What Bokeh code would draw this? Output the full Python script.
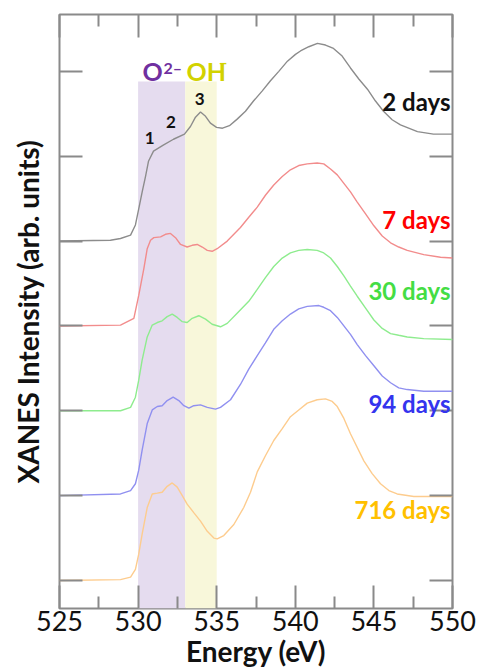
from bokeh.plotting import figure
from bokeh.models import LinearAxis, FixedTicker, BoxAnnotation, Label
from bokeh.embed import file_html
from bokeh.resources import INLINE

# ---------------- data ----------------
series_names = ["2 days", "7 days", "30 days", "94 days", "716 days"]
offsets = [4, 3, 2, 1, 0]

e_2d = [525.0, 528.24, 528.88, 529.52, 529.83, 530.04, 530.26, 530.47, 530.66, 530.98, 531.6, 532.25,
        532.95, 533.33, 533.65, 533.97, 534.29, 534.6, 534.99, 535.37, 535.81, 536.32, 536.83, 537.34,
        537.9, 538.42, 538.95, 539.5, 540.01, 540.33, 540.86, 541.41, 541.92, 542.43, 542.98, 543.51,
        544.04, 544.59, 545.1, 545.61, 546.16, 546.69, 547.77, 548.79, 550.0]
i_2d = [0.0, 0.01, 0.03, 0.07, 0.19, 0.38, 0.58, 0.76, 0.94, 1.06, 1.13, 1.20,
        1.26, 1.35, 1.46, 1.52, 1.47, 1.39, 1.34, 1.33, 1.36, 1.44, 1.53, 1.65,
        1.77, 1.89, 2.00, 2.12, 2.20, 2.24, 2.29, 2.33, 2.31, 2.27, 2.18, 2.04,
        1.91, 1.79, 1.65, 1.53, 1.43, 1.37, 1.29, 1.26, 1.26]

e_7d = [525.0, 528.88, 529.73, 530.04, 530.36, 530.58, 530.79, 531.0, 531.43, 531.74, 532.06, 532.38,
        532.7, 533.12, 533.44, 533.76, 534.08, 534.4, 534.71, 535.03, 535.67, 536.51, 537.04, 537.58,
        538.1, 538.63, 539.17, 539.69, 540.22, 540.76, 541.39, 541.81, 542.24, 542.67, 543.09, 543.51,
        543.94, 544.47, 545.0, 545.53, 546.06, 546.58, 547.12, 548.17, 549.24, 550.0]
i_7d = [0.0, 0.01, 0.09, 0.36, 0.67, 0.91, 1.01, 1.04, 1.05, 1.08, 1.09, 1.04,
        0.96, 0.93, 0.95, 0.96, 0.93, 0.89, 0.88, 0.91, 1.00, 1.16, 1.28, 1.40,
        1.54, 1.66, 1.76, 1.84, 1.89, 1.91, 1.92, 1.91, 1.85, 1.78, 1.68, 1.58,
        1.46, 1.32, 1.18, 1.06, 0.98, 0.93, 0.89, 0.84, 0.81, 0.80]

e_30d = [525.0, 528.88, 529.52, 529.83, 530.04, 530.26, 530.58, 530.9, 531.22, 531.53, 531.85, 532.17,
         532.49, 532.81, 533.12, 533.44, 533.86, 534.29, 534.71, 535.24, 535.67, 536.3, 537.04, 537.58,
         538.1, 538.63, 539.17, 539.69, 540.22, 540.76, 541.39, 541.81, 542.24, 542.67, 543.09, 543.51,
         543.94, 544.47, 545.0, 545.53, 546.06, 546.58, 547.12, 548.17, 550.0]
i_30d = [0.0, 0.0, 0.04, 0.16, 0.36, 0.60, 0.87, 1.01, 1.04, 1.06, 1.11, 1.14,
         1.10, 1.05, 1.04, 1.09, 1.12, 1.08, 1.02, 0.99, 1.03, 1.15, 1.29, 1.43,
         1.57, 1.70, 1.80, 1.86, 1.89, 1.90, 1.89, 1.86, 1.80, 1.70, 1.59, 1.47,
         1.35, 1.21, 1.07, 0.97, 0.91, 0.89, 0.87, 0.85, 0.84]

e_94d = [525.0, 528.88, 529.52, 529.83, 530.04, 530.26, 530.58, 530.9, 531.22, 531.53, 531.85, 532.23,
         532.59, 532.91, 533.23, 533.54, 533.97, 534.4, 534.92, 535.24, 535.88, 536.51, 537.04, 537.58,
         538.1, 538.63, 539.17, 539.69, 540.22, 540.76, 541.5, 541.81, 542.24, 542.67, 543.09, 543.51,
         543.94, 544.47, 545.0, 545.53, 546.06, 546.58, 547.12, 548.17, 550.0]
i_94d = [0.0, 0.02, 0.06, 0.14, 0.30, 0.54, 0.85, 1.01, 1.05, 1.06, 1.12, 1.16,
         1.12, 1.06, 1.03, 1.06, 1.07, 1.04, 1.02, 1.04, 1.13, 1.31, 1.49, 1.65,
         1.80, 1.96, 2.06, 2.14, 2.20, 2.23, 2.24, 2.22, 2.18, 2.10, 2.00, 1.90,
         1.78, 1.65, 1.53, 1.41, 1.33, 1.27, 1.25, 1.23, 1.23]

e_716d = [525.0, 528.88, 529.52, 529.83, 530.04, 530.26, 530.58, 530.9, 531.22, 531.53, 531.85, 532.17,
          532.49, 532.81, 533.12, 533.54, 533.97, 534.4, 534.82, 535.03, 535.45, 536.09, 536.72, 537.15,
          537.58, 538.1, 538.63, 539.17, 539.69, 540.22, 540.76, 541.39, 541.92, 542.35, 542.67, 543.09,
          543.51, 544.36, 544.89, 545.42, 545.95, 546.48, 547.54, 548.39, 550.0]
i_716d = [0.0, 0.01, 0.04, 0.13, 0.31, 0.55, 0.86, 1.02, 1.03, 1.04, 1.11, 1.15,
          1.10, 1.00, 0.90, 0.80, 0.70, 0.58, 0.50, 0.49, 0.53, 0.66, 0.86, 1.04,
          1.28, 1.47, 1.65, 1.79, 1.93, 2.01, 2.09, 2.13, 2.14, 2.11, 2.05, 1.91,
          1.73, 1.41, 1.26, 1.14, 1.06, 1.02, 0.99, 0.99, 0.99]

energies = [e_2d, e_7d, e_30d, e_94d, e_716d]
intensities = [i_2d, i_7d, i_30d, i_94d, i_716d]

x_ticks = [525, 530, 535, 540, 545, 550]
x_minor = [527.5, 532.5, 537.5, 542.5, 547.5]
y_ticks = [0, 1, 2, 3, 4, 5, 6]

o2_band = [530, 533]
oh_band = [533, 535]
band_top = 5.88

peak_labels = ["1", "2", "3"]
peak_x = [530.73, 532.09, 533.91]
peak_y = [5.22, 5.40, 5.67]

# ---------------- style ----------------
line_colors = ["#8c8c8c", "#f28c8c", "#8eec8e", "#9090f0", "#fdcc8e"]
label_colors = ["#111111", "#ff0000", "#44dd44", "#3434ee", "#ffc000"]
label_y = [5.65, 4.26, 3.42, 2.08, 0.84]
FONT = "Lato"
frame_gray = "#8a8a8a"

p = figure(width=483, height=670, x_range=(525, 550), y_range=(-0.33, 6.67),
           output_backend="svg", toolbar_location=None,
           min_border_left=59, min_border_right=31, min_border_top=14, min_border_bottom=0)
p.grid.visible = False
p.outline_line_color = frame_gray
p.outline_line_width = 2
p.background_fill_color = "white"

# shaded bands
p.add_layout(BoxAnnotation(left=o2_band[0], right=o2_band[1], top=band_top,
                           fill_color="#e5dcef", fill_alpha=1.0, line_color=None, level="underlay"))
p.add_layout(BoxAnnotation(left=oh_band[0], right=oh_band[1], top=band_top,
                           fill_color="#f8f7da", fill_alpha=1.0, line_color=None, level="underlay"))

# spectra
for e, i, off, c in zip(energies, intensities, offsets, line_colors):
    p.line(e, [v + off for v in i], line_color=c, line_width=1.4)

# axes
def style_axis(ax, minor=True, labels=False):
    ax.axis_line_color = None
    ax.major_tick_in = 23
    ax.major_tick_out = 0
    ax.major_tick_line_color = frame_gray
    ax.major_tick_line_width = 2
    if minor:
        ax.minor_tick_in = 12
        ax.minor_tick_out = 0
        ax.minor_tick_line_color = frame_gray
        ax.minor_tick_line_width = 2
    else:
        ax.minor_tick_in = 0
        ax.minor_tick_out = 0
        ax.minor_tick_line_color = None
    if not labels:
        ax.major_label_text_font_size = "1px"
        ax.major_label_text_color = None
        ax.major_label_standoff = 0

xb = p.xaxis[0]
xb.ticker = FixedTicker(ticks=x_ticks, minor_ticks=x_minor)
style_axis(xb, minor=True, labels=True)
xb.major_label_text_font = FONT
xb.major_label_text_font_size = "27px"
xb.major_label_text_color = "#111111"
xb.major_label_standoff = 2
xb.axis_label = "Energy (eV)"
xb.axis_label_text_font = FONT
xb.axis_label_text_font_style = "bold"
xb.axis_label_text_font_size = "28px"
xb.axis_label_text_color = "#111111"
xb.axis_label_standoff = 0

xt = LinearAxis(ticker=FixedTicker(ticks=x_ticks, minor_ticks=x_minor))
style_axis(xt, minor=True)
p.add_layout(xt, "above")

yl = p.yaxis[0]
yl.ticker = FixedTicker(ticks=y_ticks)
style_axis(yl, minor=False)
yl.axis_label = "XANES Intensity (arb. units)"
yl.axis_label_text_font = FONT
yl.axis_label_text_font_style = "bold"
yl.axis_label_text_font_size = "28px"
yl.axis_label_text_color = "#111111"
yl.axis_label_standoff = 15

yr = LinearAxis(ticker=FixedTicker(ticks=y_ticks))
style_axis(yr, minor=False)
p.add_layout(yr, "right")

# series labels
for name, c, ly in zip(series_names, label_colors, label_y):
    p.add_layout(Label(x=550, y=ly, text=name, x_offset=-2, text_align="right",
                       text_baseline="middle", text_font=FONT, text_font_style="bold",
                       text_font_size="24px", text_color=c))

# O2- and OH- labels
p.add_layout(Label(x=530.28, y=6.0, text="O", text_baseline="middle", text_font=FONT,
                   text_font_style="bold", text_font_size="25px", text_color="#7030a0"))
p.add_layout(Label(x=531.62, y=6.04, text="2\u2013", text_baseline="middle", text_font=FONT,
                   text_font_style="bold", text_font_size="16px", text_color="#7030a0"))
p.add_layout(Label(x=533.08, y=6.0, text="OH", text_baseline="middle", text_font=FONT,
                   text_font_style="bold", text_font_size="25px", text_color="#d2d200"))
p.add_layout(Label(x=535.11, y=6.12, text="\u2013", text_baseline="middle", text_font=FONT,
                   text_font_style="bold", text_font_size="16px", text_color="#d2d200"))

for t, px_, py_ in zip(peak_labels, peak_x, peak_y):
    p.add_layout(Label(x=px_, y=py_, text=t, text_align="center", text_baseline="middle",
                       text_font=FONT, text_font_style="bold", text_font_size="17px",
                       text_color="#111111"))

open("out.html", "w").write(file_html(p, INLINE))
